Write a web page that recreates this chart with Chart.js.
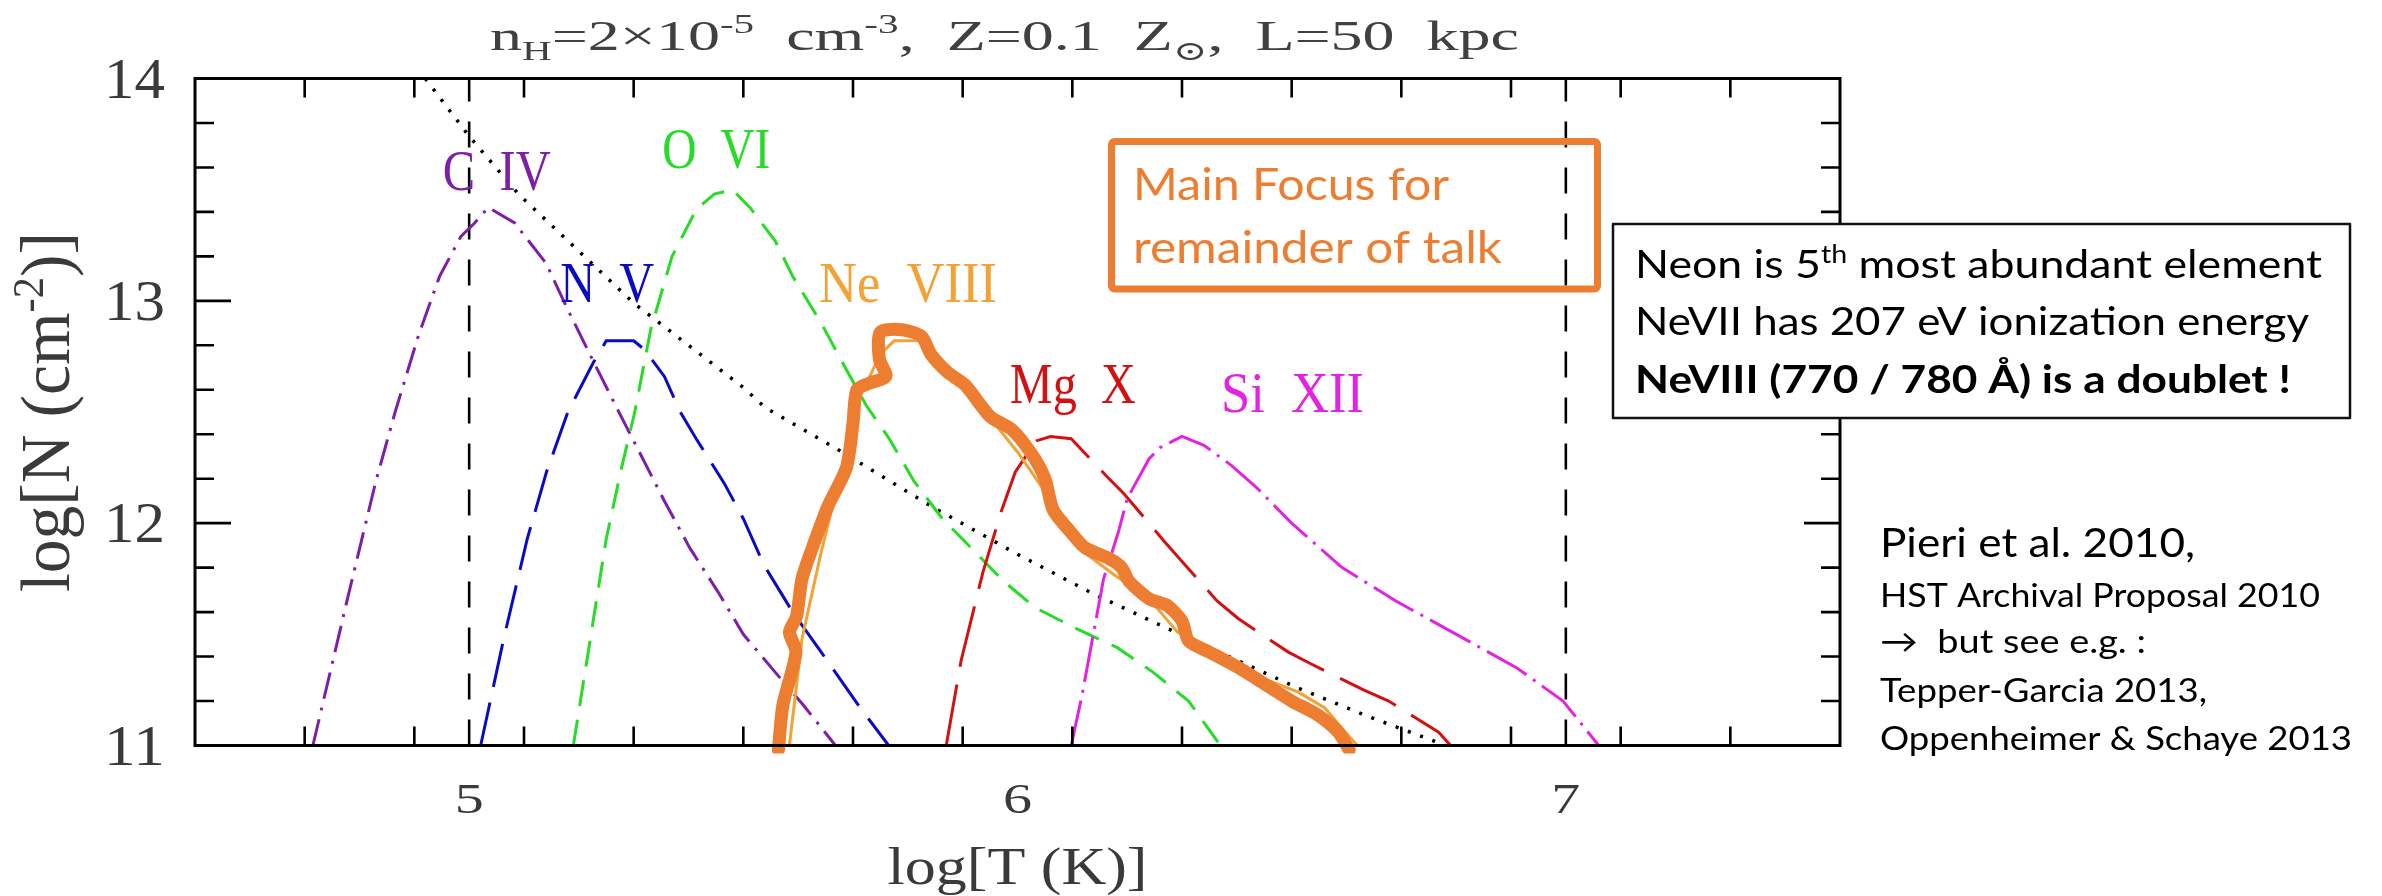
<!DOCTYPE html>
<html>
<head>
<meta charset="utf-8">
<script src="https://cdn.jsdelivr.net/npm/chart.js@4.4.1/dist/chart.umd.min.js"></script>
<style>
  html, body { margin: 0; padding: 0; background: #ffffff; }
  #wrap { width: 2382px; height: 896px; position: relative; }
</style>
</head>
<body>
<div id="wrap"><canvas id="c" width="2382" height="896"></canvas></div>
<script>
// ---- column densities log N (cm^-2) against log T (K) ----
const tCIV = [4.715, 4.78, 4.83, 4.865, 4.907, 4.946, 4.985, 5.01, 5.035, 5.083, 5.14, 5.18, 5.226, 5.273, 5.356, 5.402, 5.454, 5.5, 5.558, 5.61, 5.668];
const nCIV = [11.0, 11.68, 12.19, 12.5, 12.84, 13.11, 13.29, 13.35, 13.42, 13.35, 13.17, 12.96, 12.73, 12.5, 12.1, 11.89, 11.69, 11.5, 11.33, 11.18, 11.0];

const tNV = [5.021, 5.063, 5.106, 5.141, 5.18, 5.226, 5.25, 5.30, 5.32, 5.356, 5.385, 5.414, 5.465, 5.5, 5.538, 5.59, 5.642, 5.713, 5.765];
const nNV = [11.0, 11.48, 11.93, 12.23, 12.5, 12.72, 12.82, 12.82, 12.78, 12.66, 12.5, 12.38, 12.18, 12.02, 11.81, 11.6, 11.42, 11.17, 11.0];

const tOVI = [5.19, 5.221, 5.25, 5.278, 5.302, 5.331, 5.37, 5.414, 5.447, 5.48, 5.512, 5.558, 5.59, 5.642, 5.688, 5.724, 5.766, 5.811, 5.863, 5.915, 5.974, 6.032, 6.104, 6.182, 6.247, 6.312, 6.37];
const nOVI = [11.0, 11.48, 11.93, 12.25, 12.5, 12.87, 13.2, 13.41, 13.48, 13.5, 13.42, 13.27, 13.11, 12.9, 12.69, 12.53, 12.38, 12.19, 12.02, 11.89, 11.74, 11.62, 11.53, 11.44, 11.33, 11.2, 11.0];

const tNeVIII = [5.584, 5.607, 5.642, 5.68, 5.715, 5.75, 5.775, 5.82, 5.857, 5.90, 5.94, 5.961, 6.0, 6.045, 6.11, 6.175, 6.24, 6.292, 6.35, 6.403, 6.45, 6.512, 6.56, 6.598, 6.62];
const nNeVIII = [11.0, 11.48, 11.87, 12.25, 12.58, 12.76, 12.82, 12.82, 12.75, 12.62, 12.5, 12.44, 12.32, 12.16, 11.89, 11.77, 11.66, 11.51, 11.43, 11.36, 11.3, 11.24, 11.17, 11.06, 11.0];

const tMgX = [5.87, 5.897, 5.937, 5.97, 5.996, 6.034, 6.06, 6.098, 6.163, 6.195, 6.267, 6.364, 6.403, 6.494, 6.533, 6.631, 6.677, 6.768, 6.79];
const nMgX = [11.0, 11.38, 11.78, 12.05, 12.23, 12.37, 12.39, 12.38, 12.21, 12.13, 11.92, 11.65, 11.57, 11.42, 11.37, 11.25, 11.2, 11.06, 11.0];

const tSiXII = [6.098, 6.118, 6.139, 6.157, 6.184, 6.2, 6.24, 6.26, 6.3, 6.34, 6.39, 6.436, 6.5, 6.592, 6.69, 6.793, 6.91, 6.995, 7.06];
const nSiXII = [11.0, 11.23, 11.51, 11.75, 11.96, 12.11, 12.29, 12.34, 12.39, 12.35, 12.26, 12.16, 12.0, 11.8, 11.65, 11.51, 11.35, 11.2, 11.0];

// detection-limit style reference curve (dotted)
const tLimit = [4.92, 5.0, 5.09, 5.21, 5.3, 5.5, 5.54, 5.68, 5.84, 6.0, 6.14, 6.27, 6.51, 6.64, 6.76, 6.78];
const nLimit = [14.0, 13.74, 13.48, 13.2, 12.99, 12.61, 12.52, 12.32, 12.08, 11.86, 11.68, 11.53, 11.26, 11.13, 11.02, 11.0];

// hand-drawn highlight tracing the Ne VIII curve
const tHighlight = [5.564, 5.572, 5.596, 5.584, 5.597, 5.607, 5.626, 5.655, 5.688, 5.700, 5.707, 5.730, 5.760, 5.748, 5.750, 5.790, 5.825, 5.842, 5.872, 5.905, 5.950, 5.990, 6.026, 6.050, 6.065, 6.097, 6.123, 6.168, 6.190, 6.203, 6.240, 6.273, 6.300, 6.312, 6.350, 6.403, 6.455, 6.500, 6.546, 6.585, 6.605];
const nHighlight = [10.98, 11.18, 11.42, 11.51, 11.58, 11.75, 11.89, 12.08, 12.25, 12.45, 12.60, 12.63, 12.66, 12.74, 12.86, 12.87, 12.84, 12.76, 12.68, 12.62, 12.48, 12.42, 12.31, 12.20, 12.06, 11.96, 11.89, 11.84, 11.80, 11.74, 11.66, 11.63, 11.56, 11.47, 11.42, 11.35, 11.27, 11.20, 11.14, 11.06, 10.98];

// vertical reference temperatures
const markerT = [5, 7];

// axes
const xRange = [4.5, 7.5];
const yRange = [11, 14];
const xMajorTicks = [5, 6, 7];
const xTickLabels = ['5', '6', '7'];
const yMajorTicks = [11, 12, 13, 14];
const yTickLabels = ['11', '12', '13', '14'];
const minorStep = 0.2;

// ion labels: name and anchor (log T, log N) of the label's left baseline
const ionNames = ['C  IV', 'N  V', 'O  VI', 'Ne  VIII', 'Mg  X', 'Si  XII'];
const ionLabelT = [4.952, 5.166, 5.352, 5.638, 5.986, 6.371];
const ionLabelN = [13.498, 12.995, 13.597, 12.995, 12.54, 12.5];

const C = {
  civ: '#7d1fa8', nv: '#0b0bc4', ovi: '#26dc26', neviii: '#f2a236',
  mgx: '#d21212', sixii: '#e224e2', hi: '#ed7d31'
};
const ionColors = [C.civ, C.nv, C.ovi, C.neviii, C.mgx, C.sixii];
const ionLabelWidths = [108, 94, 108, 178, 126, 143];

const pts = (xs, ys) => xs.map((x, i) => ({ x: x, y: ys[i] }));

const SERIF = '"Liberation Serif", "DejaVu Serif", serif';
const SANS = 'Lato, "Open Sans", "DejaVu Sans", sans-serif';

// draw a sequence of text runs squeezed/stretched to a given width
function drawRuns(ctx, runs, x, y, width, align) {
  let total = 0;
  const ws = runs.map(r => { ctx.font = r.font; const w = ctx.measureText(r.text).width; total += w; return w; });
  const sx = width ? width / total : 1;
  const span = total * sx;
  const start = align === 'center' ? x - span / 2 : (align === 'right' ? x - span : x);
  ctx.save();
  ctx.textAlign = 'left';
  ctx.textBaseline = 'alphabetic';
  ctx.translate(start, y);
  ctx.scale(sx, 1);
  let cx = 0;
  runs.forEach((r, i) => {
    ctx.font = r.font;
    ctx.fillStyle = r.color;
    ctx.fillText(r.text, cx, r.dy || 0);
    cx += ws[i];
  });
  ctx.restore();
}

const framePlugin = {
  id: 'frame',
  afterDatasetsDraw(chart) {
    const ctx = chart.ctx;
    const xs = chart.scales.x, ys = chart.scales.y;
    const a = chart.chartArea;
    const L = a.left, R = a.right, T = a.top, B = a.bottom;

    ctx.save();
    // box
    ctx.strokeStyle = '#000';
    ctx.lineWidth = 3;
    ctx.lineCap = 'butt';
    ctx.strokeRect(L, T, R - L, B - T);

    // ticks (inward on all four sides)
    const minorLen = 19, majorLen = 36;
    ctx.lineWidth = 2.6;
    ctx.beginPath();
    const nx = Math.round((xRange[1] - xRange[0]) / minorStep);
    for (let i = 1; i < nx; i++) {
      const v = xRange[0] + i * minorStep;
      const major = xMajorTicks.some(m => Math.abs(m - v) < 1e-6);
      const len = major ? majorLen : minorLen;
      const px = xs.getPixelForValue(v);
      ctx.moveTo(px, B); ctx.lineTo(px, B - len);
      ctx.moveTo(px, T); ctx.lineTo(px, T + len);
    }
    const ny = Math.round((yRange[1] - yRange[0]) / minorStep);
    for (let i = 1; i < ny; i++) {
      const v = yRange[0] + i * minorStep;
      const major = yMajorTicks.some(m => Math.abs(m - v) < 1e-6);
      const len = major ? majorLen : minorLen;
      const py = ys.getPixelForValue(v);
      ctx.moveTo(L, py); ctx.lineTo(L + len, py);
      ctx.moveTo(R, py); ctx.lineTo(R - len, py);
    }
    ctx.stroke();

    // tick labels
    const tickColor = '#3a3a3a';
    xMajorTicks.forEach((v, i) => {
      drawRuns(ctx, [{ text: xTickLabels[i], font: '43px ' + SERIF, color: tickColor }],
        xs.getPixelForValue(v), B + 67, 29, 'center');
    });
    yMajorTicks.forEach((v, i) => {
      drawRuns(ctx, [{ text: yTickLabels[i], font: '56px ' + SERIF, color: tickColor }],
        L - 30, ys.getPixelForValue(v) + 19, 61, 'right');
    });

    // axis titles
    drawRuns(ctx, [{ text: 'log[T (K)]', font: '53px ' + SERIF, color: tickColor }],
      (L + R) / 2, B + 138, 260, 'center');

    ctx.save();
    ctx.translate(69, (T + B) / 2);
    ctx.rotate(-Math.PI / 2);
    drawRuns(ctx, [
      { text: 'log[N (cm', font: '70px ' + SERIF, color: tickColor },
      { text: '-2', font: '44px ' + SERIF, color: tickColor, dy: -26 },
      { text: ')]', font: '70px ' + SERIF, color: tickColor }
    ], 0, 0, 360, 'center');
    ctx.restore();

    // chart title
    const tf = '42px ' + SERIF, sf = '27px ' + SERIF, tc = '#404040';
    drawRuns(ctx, [
      { text: 'n', font: tf, color: tc },
      { text: 'H', font: sf, color: tc, dy: 10 },
      { text: '=2\u00d710', font: tf, color: tc },
      { text: '-5', font: sf, color: tc, dy: -17 },
      { text: '  cm', font: tf, color: tc },
      { text: '-3', font: sf, color: tc, dy: -17 },
      { text: ',  Z=0.1  Z', font: tf, color: tc },
      { text: '\u2299', font: sf, color: tc, dy: 10 },
      { text: ',  L=50  kpc', font: tf, color: tc }
    ], 490, 50, 1029, 'left');

    // ion labels
    ionNames.forEach((name, i) => {
      drawRuns(ctx, [{ text: name, font: '56px ' + SERIF, color: ionColors[i] }],
        xs.getPixelForValue(ionLabelT[i]), ys.getPixelForValue(ionLabelN[i]), ionLabelWidths[i], 'left');
    });

    // highlight box
    ctx.strokeStyle = C.hi;
    ctx.lineWidth = 7;
    ctx.lineJoin = 'round';
    ctx.beginPath();
    ctx.roundRect(1111.5, 141.5, 486, 147.5, 3);
    ctx.stroke();
    drawRuns(ctx, [{ text: 'Main Focus for', font: '44px ' + SANS, color: C.hi }], 1133, 200, 316, 'left');
    drawRuns(ctx, [{ text: 'remainder of talk', font: '44px ' + SANS, color: C.hi }], 1133, 263, 369, 'left');

    // note box
    ctx.fillStyle = '#fff';
    ctx.fillRect(1613, 224, 737, 194);
    ctx.strokeStyle = '#111';
    ctx.lineWidth = 2.5;
    ctx.strokeRect(1613, 224, 737, 194);
    const nf = '39px ' + SANS;
    drawRuns(ctx, [
      { text: 'Neon is 5', font: nf, color: '#000' },
      { text: 'th', font: '25px ' + SANS, color: '#000', dy: -15 },
      { text: ' most abundant element', font: nf, color: '#000' }
    ], 1635, 278, 687, 'left');
    drawRuns(ctx, [{ text: 'NeVII has 207 eV ionization energy', font: nf, color: '#000' }], 1635, 335, 674, 'left');
    drawRuns(ctx, [{ text: 'NeVIII (770 / 780 \u00c5) is a doublet !', font: 'bold ' + nf, color: '#000' }], 1635, 393, 656, 'left');

    // references
    const rf = '33px ' + SANS;
    drawRuns(ctx, [{ text: 'Pieri et al. 2010,', font: '40px ' + SANS, color: '#000' }], 1880, 557, 315, 'left');
    drawRuns(ctx, [{ text: 'HST Archival Proposal 2010', font: rf, color: '#000' }], 1880, 607, 440, 'left');
    drawRuns(ctx, [{ text: '\u2192  but see e.g. :', font: rf, color: '#000' }], 1880, 653, 266, 'left');
    drawRuns(ctx, [{ text: 'Tepper-Garcia 2013,', font: rf, color: '#000' }], 1880, 702, 327, 'left');
    drawRuns(ctx, [{ text: 'Oppenheimer & Schaye 2013', font: rf, color: '#000' }], 1880, 750, 472, 'left');

    ctx.restore();
  }
};

const line = (data, color, dash, width, extra) => Object.assign({
  data: data, borderColor: color, borderWidth: width || 3, borderDash: dash || [],
  pointRadius: 0, tension: 0, fill: false, borderCapStyle: 'butt'
}, extra || {});

// vertical marker lines spanning the full log N range
const markerLines = markerT.map(t =>
  line([{ x: t, y: yRange[0] }, { x: t, y: yRange[1] }], '#000', [26, 20], 2.6));

const datasets = [
  line(pts(tHighlight, nHighlight), C.hi, [], 13, { borderJoinStyle: 'round', borderCapStyle: 'round', tension: 0.25, clip: 8 }),
  line(pts(tNeVIII, nNeVIII), C.neviii, [], 3),
  line(pts(tSiXII, nSiXII), C.sixii, [46, 8, 3, 8], 3),
  line(pts(tMgX, nMgX), C.mgx, [62, 18], 3),
  line(pts(tOVI, nOVI), C.ovi, [26, 14], 3),
  line(pts(tNV, nNV), C.nv, [44, 16], 3),
  line(pts(tCIV, nCIV), C.civ, [27, 9, 3, 9], 3),
  line(pts(tLimit, nLimit), '#000', [3, 10], 3.5)
].concat(markerLines);

new Chart(document.getElementById('c'), {
  type: 'line',
  data: { datasets: datasets },
  options: {
    responsive: false,
    animation: false,
    devicePixelRatio: 1,
    layout: { padding: { left: 195, right: 542, top: 78.5, bottom: 150.5 } },
    scales: {
      x: { type: 'linear', min: xRange[0], max: xRange[1], display: false },
      y: { type: 'linear', min: yRange[0], max: yRange[1], display: false }
    },
    plugins: { legend: { display: false }, tooltip: { enabled: false } },
    events: []
  },
  plugins: [framePlugin]
});
</script>
</body>
</html>
